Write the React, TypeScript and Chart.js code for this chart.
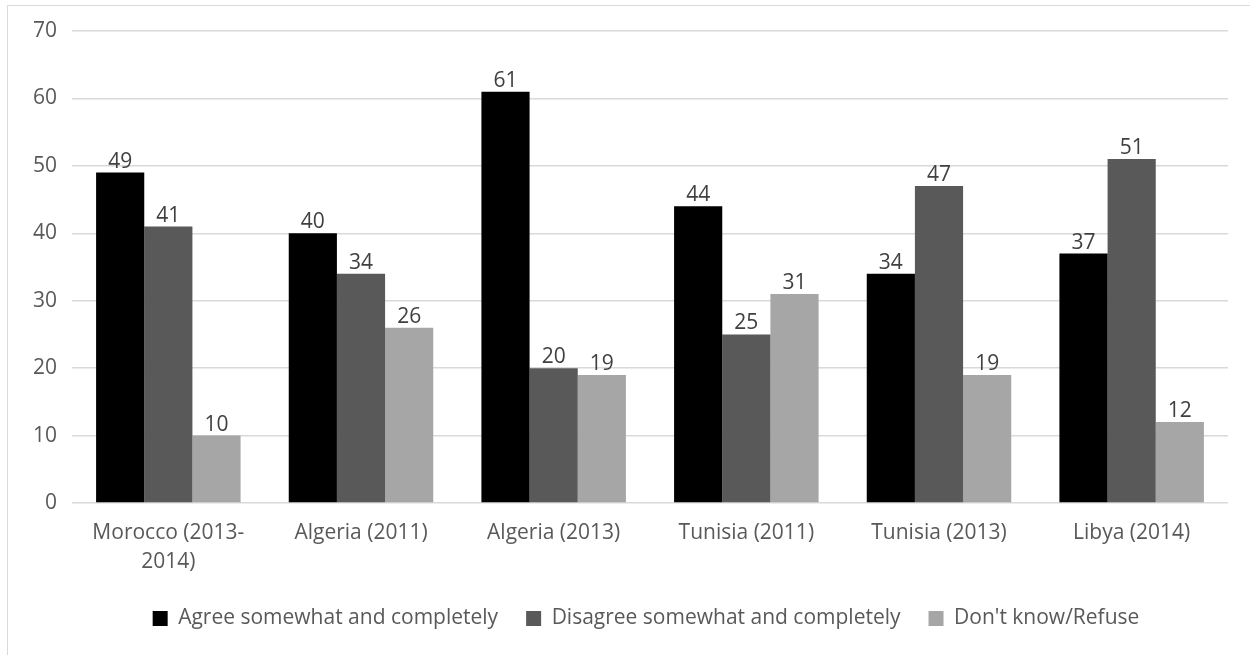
import React, { useEffect, useRef } from "react";
import { Chart, registerables } from "chart.js";

Chart.register(...registerables);

const categories: (string | string[])[] = [
  ["Morocco (2013-", "2014)"],
  "Algeria (2011)",
  "Algeria (2013)",
  "Tunisia (2011)",
  "Tunisia (2013)",
  "Libya (2014)",
];
const seriesNames = [
  "Agree somewhat and completely",
  "Disagree somewhat and completely",
  "Don't know/Refuse",
];
const agreeValues = [49, 40, 61, 44, 34, 37];
const disagreeValues = [41, 34, 20, 25, 47, 51];
const dontKnowValues = [10, 26, 19, 31, 19, 12];
const seriesColors = ["#000000", "#595959", "#a6a6a6"];
const yMin = 0;
const yMax = 70;
const yStep = 10;

const FONT = "'Open Sans', 'Noto Sans', sans-serif";

const framePlugin = {
  id: "frame",
  beforeDraw(chart: any) {
    const ctx = chart.ctx;
    ctx.save();
    ctx.fillStyle = "#ffffff";
    ctx.fillRect(0, 0, chart.width, chart.height);
    ctx.strokeStyle = "#d9d9d9";
    ctx.lineWidth = 1;
    ctx.strokeRect(7.5, 5.5, chart.width + 50, chart.height + 50);
    ctx.restore();
  },
};

const legendShiftPlugin = {
  id: "legendShift",
  afterLayout(chart: any) {
    const lg = chart.legend;
    if (!lg) return;
    lg.left += 32;
    lg.right += 32;
    lg.top += 2;
    lg.bottom += 2;
  },
};

const dataLabelPlugin = {
  id: "dataLabels",
  afterDatasetsDraw(chart: any) {
    const ctx = chart.ctx;
    ctx.save();
    ctx.font = `21px ${FONT}`;
    ctx.fillStyle = "#404040";
    ctx.textAlign = "center";
    ctx.textBaseline = "alphabetic";
    chart.data.datasets.forEach((ds: any, di: number) => {
      const meta = chart.getDatasetMeta(di);
      meta.data.forEach((bar: any, i: number) => {
        ctx.fillText(String(ds.data[i]), bar.x, bar.y - 5);
      });
    });
    ctx.restore();
  },
};

export default function App() {
  const canvasRef = useRef<HTMLCanvasElement | null>(null);

  useEffect(() => {
    if (!canvasRef.current) return;
    const chart = new Chart(canvasRef.current, {
      type: "bar",
      data: {
        labels: categories,
        datasets: [
          { label: seriesNames[0], data: agreeValues, backgroundColor: seriesColors[0] },
          { label: seriesNames[1], data: disagreeValues, backgroundColor: seriesColors[1] },
          { label: seriesNames[2], data: dontKnowValues, backgroundColor: seriesColors[2] },
        ],
      },
      options: {
        responsive: false,
        animation: false,
        events: [],
        layout: { padding: { top: 31, right: 22, bottom: 18, left: 0 } },
        datasets: {
          bar: { categoryPercentage: 0.75, barPercentage: 1.0, borderWidth: 0 },
        },
        scales: {
          x: {
            grid: { display: false, drawTicks: false },
            border: { display: false },
            ticks: {
              color: "#595959",
              font: { family: FONT, size: 21, lineHeight: 1.4 },
              padding: 15,
              maxRotation: 0,
              autoSkip: false,
            },
            afterFit(scale: any) {
              scale.height = 75;
            },
          },
          y: {
            min: yMin,
            max: yMax,
            grid: { color: "#d9d9d9", lineWidth: 1.5, drawTicks: false },
            border: { display: false },
            ticks: {
              stepSize: yStep,
              color: "#595959",
              font: { family: FONT, size: 21 },
              padding: 15,
            },
            afterFit(scale: any) {
              scale.width = 72;
            },
          },
        },
        plugins: {
          legend: {
            position: "bottom",
            labels: {
              color: "#595959",
              font: { family: FONT, size: 21 },
              boxWidth: 15,
              boxHeight: 15,
              padding: 28,
            },
          },
          tooltip: { enabled: false },
          title: { display: false },
        },
      },
      plugins: [framePlugin, legendShiftPlugin, dataLabelPlugin],
    });
    return () => chart.destroy();
  }, []);

  return (
    <div style={{ position: "absolute", left: 0, top: 0, width: 1250, height: 655 }}>
      <canvas ref={canvasRef} width={1250} height={655} style={{ display: "block" }} />
    </div>
  );
}
